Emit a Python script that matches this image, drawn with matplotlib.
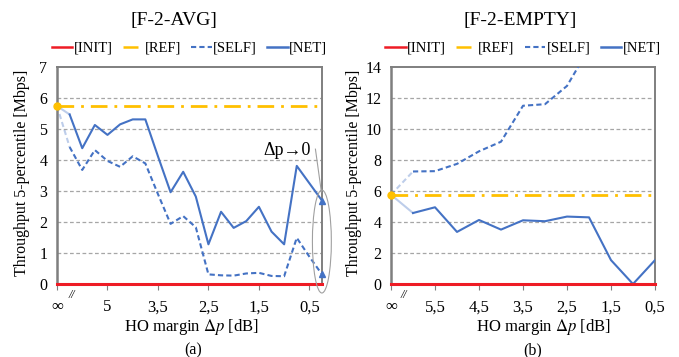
"""
Throughput 5-percentile vs. HO margin, [F-2-AVG] and [F-2-EMPTY].
"""

import matplotlib
matplotlib.use('Agg')
import matplotlib.pyplot as plt
from matplotlib.patches import Ellipse

plt.rcParams['font.family'] = ['Liberation Serif', 'DejaVu Serif']
plt.rcParams['mathtext.fontset'] = 'stix'

# ---- data (index 0 = infinite margin) ----
avg_net = [5.74, 5.47, 4.38, 5.13, 4.81, 5.15, 5.31, 5.31, 4.12, 2.96, 3.62,
           2.82, 1.28, 2.33, 1.81, 2.03, 2.49, 1.69, 1.28, 3.81, 3.25, 2.69]
avg_self = [5.74, 4.42, 3.68, 4.32, 3.97, 3.78, 4.12, 3.89, 2.9, 1.94, 2.19,
            1.83, 0.31, 0.28, 0.27, 0.34, 0.36, 0.26, 0.25, 1.49, 0.88, 0.31]
avg_ref = 5.74
avg_init = 0.0
avg_tick_pos = [0, 4, 8, 12, 16, 20]
avg_tick_lab = ['∞', '5', '3,5', '2,5', '1,5', '0,5']

empty_net = [5.76, 4.58, 4.95, 3.36, 4.13, 3.51, 4.11, 4.05, 4.35, 4.30,
             1.54, 0.0, 1.54]
empty_self = [5.76, 7.26, 7.28, 7.75, 8.56, 9.18, 11.5, 11.6, 12.78, 15.2]
empty_ref = 5.76
empty_init = 0.0
empty_tick_pos = [0, 2, 4, 6, 8, 10, 12]
empty_tick_lab = ['∞', '5,5', '4,5', '3,5', '2,5', '1,5', '0,5']

BLUE = '#4472C4'
GOLD = '#FFC000'
RED = '#EE1C25'
GRID = '#A6A6A6'
SPINE = '#7F7F7F'
REF_LS = (0, (6, 2.5, 1, 2.5))
SELF_LS = (0, (2.5, 1.5))


def draw_panel(ax, net, self_, ref, init, n, ymax, ystep, tick_pos, tick_lab,
               end_markers=False, brk_x=0.057):
    xs = list(range(len(net)))
    xs_s = list(range(len(self_)))

    # horizontal dashed grid
    for yv in range(ystep, ymax, ystep):
        ax.axhline(yv, color=GRID, lw=0.9, ls=(0, (3, 2)), zorder=1)

    # first segment (from "infinity") faded
    ax.plot(xs_s[:2], self_[:2], color=BLUE, lw=1.5, ls=SELF_LS,
            alpha=0.35, zorder=3)
    ax.plot(xs[:2], net[:2], color=BLUE, lw=1.5, alpha=0.35, zorder=3)

    ax.plot(xs_s[1:], self_[1:], color=BLUE, lw=1.5, ls=SELF_LS, zorder=3)
    ax.plot(xs[1:], net[1:], color=BLUE, lw=1.5, zorder=3)
    if end_markers:
        ax.plot(xs[-1], net[-1], '^', color=BLUE, ms=5, zorder=4, clip_on=False)
        ax.plot(xs_s[-1], self_[-1], '^', color=BLUE, ms=5, zorder=4, clip_on=False)

    ax.axhline(ref, color=GOLD, lw=2, ls=REF_LS, zorder=2)
    ax.plot(0, ref, 'o', color=GOLD, ms=5, zorder=4, clip_on=False)
    ax.axhline(init, color=RED, lw=2.2, zorder=5, clip_on=False)

    # legend proxies
    h_init, = ax.plot([], [], color=RED, lw=1.8, label='[INIT]')
    h_ref, = ax.plot([], [], color=GOLD, lw=1.8, ls=REF_LS, label='[REF]')
    h_self, = ax.plot([], [], color=BLUE, lw=1.5, ls=SELF_LS, label='[SELF]')
    h_net, = ax.plot([], [], color=BLUE, lw=1.8, label='[NET]')
    ax.legend(handles=[h_init, h_ref, h_self, h_net], loc='lower center',
              bbox_to_anchor=(0.5, 1.03), ncol=4, frameon=False, fontsize=10.5,
              handlelength=1.4, handletextpad=0.1, columnspacing=0.7,
              borderaxespad=0.2, borderpad=0.2)

    ax.set_xlim(0, n)
    ax.set_ylim(0, ymax)
    ax.set_yticks(range(0, ymax + 1, ystep))
    ax.set_xticks(tick_pos)
    ax.set_xticklabels(tick_lab)
    ax.tick_params(axis='x', length=4, width=0.8, color=SPINE, pad=7, labelsize=12)
    ax.tick_params(axis='y', length=0, pad=7, labelsize=11.5)
    for side in ['top', 'right', 'left']:
        ax.spines[side].set_color(SPINE)
        ax.spines[side].set_linewidth(1.4)
    ax.spines['left'].set_linewidth(1.8)
    ax.spines['bottom'].set_visible(False)

    # axis break mark next to infinity
    ax.text(brk_x, -0.05, '//', transform=ax.transAxes, fontsize=8.5,
            style='italic', ha='center', va='center')


fig = plt.figure(figsize=(6.79, 3.57), dpi=100)
ax1 = fig.add_axes([57 / 679, 1 - 284 / 357, 265 / 679, 217 / 357])
ax2 = fig.add_axes([391 / 679, 1 - 284 / 357, 264 / 679, 217 / 357])

draw_panel(ax1, avg_net, avg_self, avg_ref, avg_init, 21, 7, 1,
           avg_tick_pos, avg_tick_lab, end_markers=True, brk_x=0.057)
draw_panel(ax2, empty_net, empty_self, empty_ref, empty_init, 12, 14, 2,
           empty_tick_pos, empty_tick_lab, brk_x=0.05)

# highlight of the Δp→0 end points
ax1.add_patch(Ellipse((20.99, 1.37), 1.5, 3.32, fill=False, ec='#A0A0A0',
                      lw=0.8, clip_on=False, zorder=6))
ax1.text(18.25, 4.3, 'Δp→0', fontsize=13, ha='center', va='center')
ax1.plot([20.48, 20.95], [4.35, 2.97], color='#A0A0A0', lw=0.8, zorder=6,
         clip_on=False)

# titles, labels, captions
fig.text(174 / 679, 1 - 20 / 357, '[F-2-AVG]', fontsize=14, ha='center', va='center')
fig.text(520 / 679, 1 - 20 / 357, '[F-2-EMPTY]', fontsize=14, ha='center', va='center')
fig.text(22 / 679, 1 - 173 / 357, 'Throughput 5-percentile [Mbps]', fontsize=11.5,
         rotation=90, ha='center', va='center')
fig.text(354 / 679, 1 - 173 / 357, 'Throughput 5-percentile [Mbps]', fontsize=11.5,
         rotation=90, ha='center', va='center')
fig.text(192 / 679, 1 - 327 / 357, r'HO margin $\Delta p$ [dB]', fontsize=12,
         ha='center', va='center')
fig.text(544 / 679, 1 - 327 / 357, r'HO margin $\Delta p$ [dB]', fontsize=12,
         ha='center', va='center')
fig.text(193 / 679, 1 - 350 / 357, '(a)', fontsize=11.5, ha='center', va='center')
fig.text(533 / 679, 1 - 350 / 357, '(b)', fontsize=11.5, ha='center', va='center')

fig.savefig('out.png', dpi=100)
